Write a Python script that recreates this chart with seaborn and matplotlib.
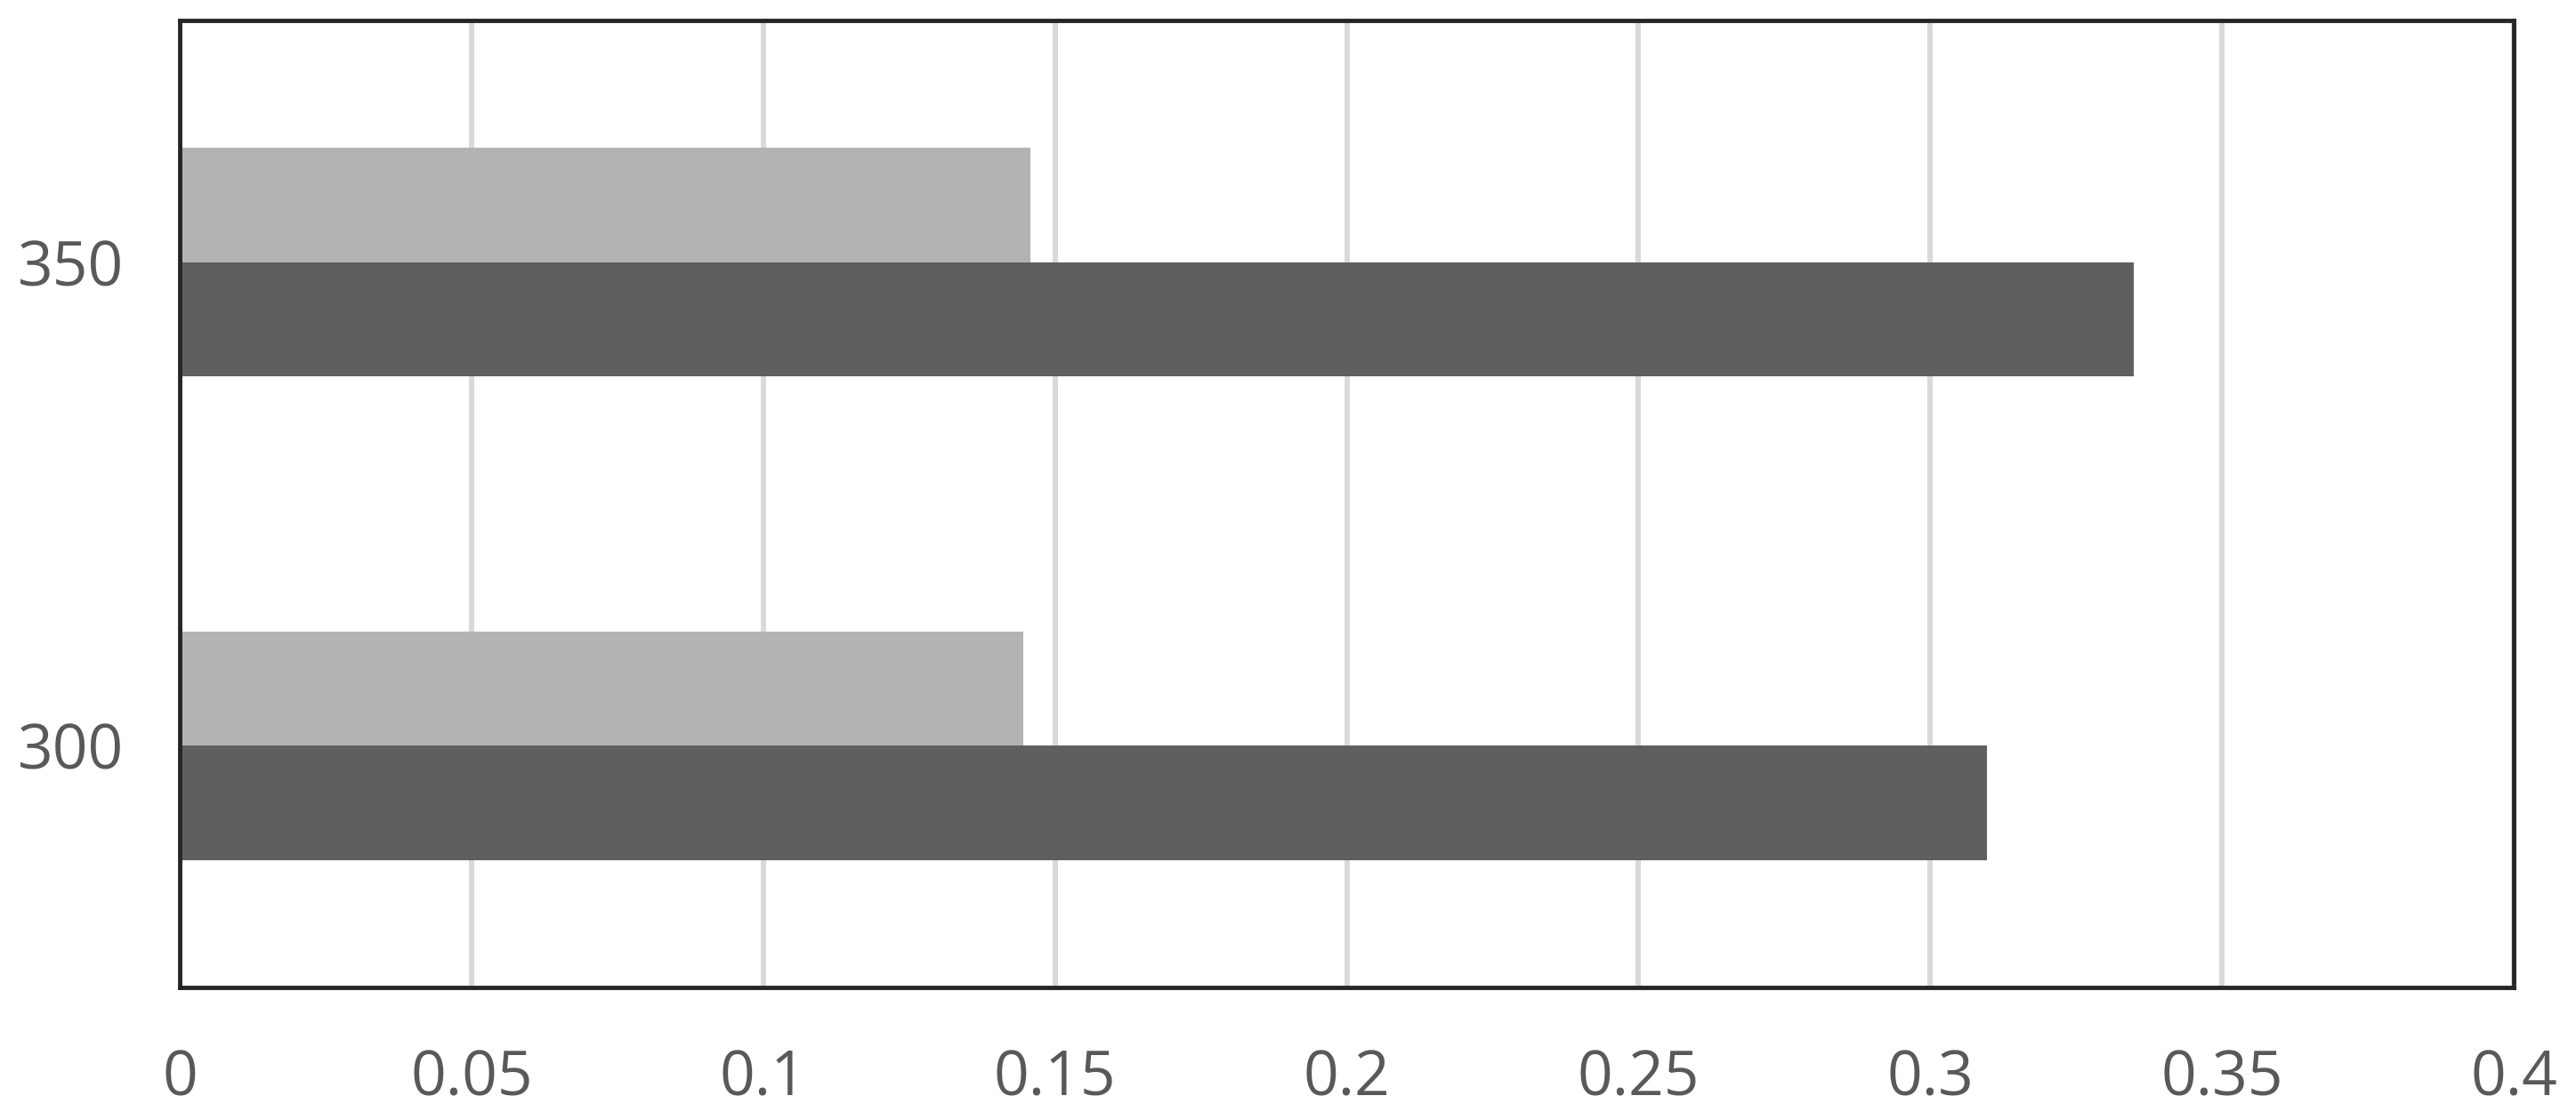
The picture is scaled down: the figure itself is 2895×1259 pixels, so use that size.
import pandas as pd
import matplotlib.pyplot as plt
import seaborn as sns

# Values
categories = ['350', '300']
series_names = ['light', 'dark']
light_values = [0.1458, 0.1446]
dark_values = [0.3349, 0.3097]
x_ticks = [0, 0.05, 0.1, 0.15, 0.2, 0.25, 0.3, 0.35, 0.4]
x_tick_labels = ['0', '0.05', '0.1', '0.15', '0.2', '0.25', '0.3', '0.35', '0.4']

df = pd.DataFrame({
    'Category': categories * 2,
    'Series': [series_names[0]] * len(categories) + [series_names[1]] * len(categories),
    'Value': light_values + dark_values,
})

sns.set_theme(style="white")
plt.rcParams['font.family'] = ['Open Sans', 'DejaVu Sans']

fig = plt.figure(figsize=(28.95, 12.59), dpi=100)
ax = fig.add_axes([202 / 2895, 1 - 1110 / 1259, (2825 - 202) / 2895, (1110 - 23) / 1259])

sns.barplot(data=df, x='Value', y='Category', hue='Series', order=categories,
            hue_order=series_names, palette={'light': '#b3b3b3', 'dark': '#5f5f5f'},
            orient='h', width=0.473, gap=0, linewidth=0, ax=ax, legend=False)

ax.set_xlim(0, 0.4)
ax.set_ylim(1.5, -0.5)
ax.set_xticks(x_ticks)
ax.set_xticklabels(x_tick_labels)
ax.xaxis.grid(True, color='#d9d9d9', linewidth=4.3)
ax.yaxis.grid(False)
ax.set_axisbelow(True)
ax.set_xlabel('')
ax.set_ylabel('')
ax.tick_params(axis='x', length=0, pad=49, labelsize=50, labelcolor='#595959')
ax.tick_params(axis='y', length=0, pad=45, labelsize=50, labelcolor='#595959')
for spine in ax.spines.values():
    spine.set_visible(True)
    spine.set_color('#262626')
    spine.set_linewidth(3.5)

plt.savefig('out.png', dpi=100)
